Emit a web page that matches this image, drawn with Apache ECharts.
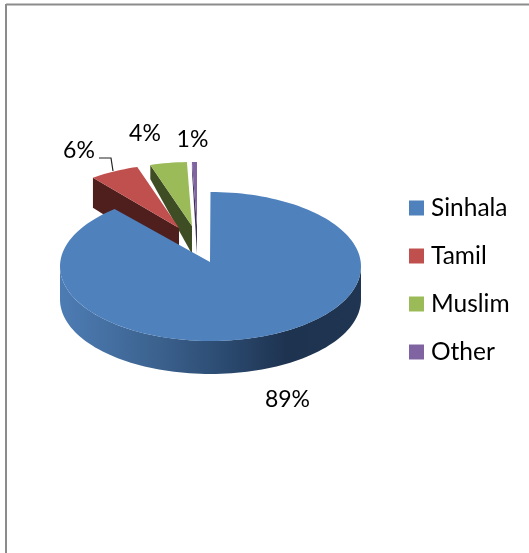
<!DOCTYPE html>
<html><head><meta charset="utf-8">
<style>html,body{margin:0;padding:0;background:#fff}#c{width:529px;height:553px}</style>
<script src="https://cdn.jsdelivr.net/npm/echarts@6/dist/echarts.min.js"></script>
</head><body><div id="c"></div>
<script>
var categories = ['Sinhala', 'Tamil', 'Muslim', 'Other'];
var values = [89, 6, 4.4, 0.6];
var labels = ['89%', '6%', '4%', '1%'];
var colors = ['#4f81bd', '#c0504d', '#9bbb59', '#8064a2'];
var wallColors = ['#1f3552', '#4f1f1e', '#3f4d24', '#3d3056'];

// exploded 3D layout: apex position, rim radii, ellipse centre offset from apex, wall depth at rim / apex
var layout = [
  { ax: 210, ay: 262, rx: 150.5, ry: 74.5, ox: 0.5, oy: 4.5, dR: 33, dA: 33 },
  { ax: 179, ay: 228, rx: 135, ry: 60, ox: 0, oy: -4, dR: 30, dA: 34 },
  { ax: 192, ay: 226, rx: 135, ry: 60, ox: 0, oy: -4, dR: 14, dA: 28 },
  { ax: 197, ay: 226, rx: 135, ry: 60, ox: 0, oy: -4, dR: 8, dA: 28 }
];
var labelPos = [[287.5, 400], [79, 151], [145, 134], [192.5, 140]];

var total = values.reduce(function (a, b) { return a + b; }, 0);
var starts = [];
values.reduce(function (acc, v, i) { starts[i] = acc; return acc + v; }, 0);

function rimPt(L, deg, dy) {
  var t = deg * Math.PI / 180;
  return [L.ax + L.ox + L.rx * Math.sin(t), L.ay + L.oy - L.ry * Math.cos(t) + (dy || 0)];
}
function arc(L, a, b, dy) {
  var pts = [], n = Math.max(2, Math.ceil(Math.abs(b - a) / 2));
  for (var i = 0; i <= n; i++) pts.push(rimPt(L, a + (b - a) * i / n, dy));
  return pts;
}

function makeRender(idx) {
  return function (params, api) {
    var L = layout[idx];
    var a0 = starts[idx] / total * 360;
    var a1 = (starts[idx] + api.value(0)) / total * 360;
    var children = [];
    var apex = [L.ax, L.ay];
    if (idx === 0) {
      // visible outer side wall: front half of the rim
      var top = arc(L, 90, 270, 0);
      var bottom = arc(L, 270, 90, L.dR);
      children.push({
        type: 'polygon',
        shape: { points: top.concat(bottom) },
        style: {
          fill: new echarts.graphic.LinearGradient(0, 0, 1, 0, [
            { offset: 0, color: '#4d7cb4' },
            { offset: 0.3, color: '#3d6491' },
            { offset: 0.55, color: '#2b4a70' },
            { offset: 0.75, color: '#1e3350' },
            { offset: 1, color: wallColors[0] }
          ])
        }
      });
    } else {
      var r0 = rimPt(L, a0, 0);
      children.push({
        type: 'polygon',
        shape: { points: [r0, apex, [apex[0], apex[1] + L.dA], [r0[0], r0[1] + L.dR]] },
        style: { fill: wallColors[idx] }
      });
    }
    children.push({
      type: 'polygon',
      shape: { points: [apex].concat(arc(L, a0, a1, 0)) },
      style: { fill: colors[idx] }
    });
    children.push({
      type: 'text',
      style: {
        text: labels[idx], x: labelPos[idx][0], y: labelPos[idx][1],
        align: 'center', verticalAlign: 'middle',
        font: '23px Lato', fill: '#000'
      }
    });
    return { type: 'group', children: children };
  };
}

var chart = echarts.init(document.getElementById('c'), null, { renderer: 'canvas' });
chart.setOption({
  animation: false,
  backgroundColor: '#fff',
  legend: {
    orient: 'vertical', left: 409, top: 194, padding: 0,
    data: categories, icon: 'rect',
    itemWidth: 15, itemHeight: 15, itemGap: 20, selectedMode: false,
    textStyle: { fontFamily: 'Lato', fontSize: 24.5, color: '#000', padding: [0, 0, 0, 2], lineHeight: 28 }
  },
  graphic: [
    { type: 'line', shape: { x1: 6, y1: 4.5, x2: 529, y2: 4.5 }, style: { stroke: '#8c8c8c', lineWidth: 2 } },
    { type: 'line', shape: { x1: 6, y1: 4, x2: 6, y2: 553 }, style: { stroke: '#8c8c8c', lineWidth: 2 } },
    { type: 'polyline', shape: { points: [[99, 158], [111, 158], [113, 171]] }, style: { stroke: '#222', lineWidth: 1.2, fill: 'none' }, z: 20 }
  ],
  series: categories.map(function (name, i) {
    return {
      type: 'custom', name: name, coordinateSystem: 'none',
      z: 10 - i,
      itemStyle: { color: colors[i] },
      data: [[values[i]]],
      renderItem: makeRender(i)
    };
  })
});
</script></body></html>
